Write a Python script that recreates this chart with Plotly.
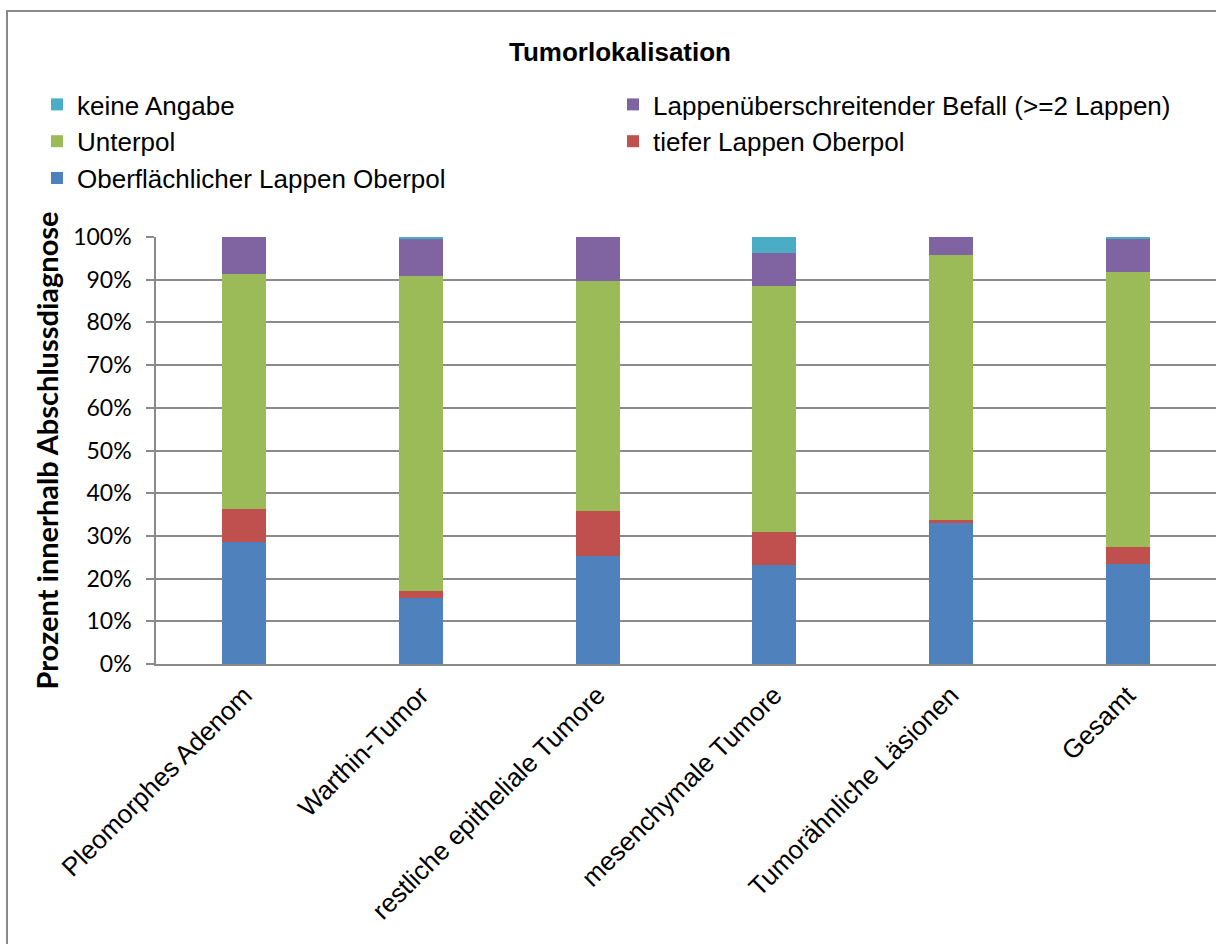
import plotly.graph_objects as go

# Tumour localisation by final diagnosis, share in percent
categories = [
    "Pleomorphes Adenom",
    "Warthin-Tumor",
    "restliche epitheliale Tumore",
    "mesenchymale Tumore",
    "Tumorähnliche Läsionen",
    "Gesamt",
]
oberflaechlich_oberpol = [28.5, 15.4, 25.4, 23.1, 33.1, 23.4]
tiefer_oberpol = [7.8, 1.6, 10.4, 7.7, 0.6, 3.9]
unterpol = [55.0, 73.8, 54.0, 57.7, 62.1, 64.5]
lappenueberschreitend = [8.7, 8.8, 10.2, 7.8, 4.2, 7.8]
keine_angabe = [0.0, 0.4, 0.0, 3.7, 0.0, 0.4]

y_ticks = [0, 10, 20, 30, 40, 50, 60, 70, 80, 90, 100]
y_tick_labels = ["0%", "10%", "20%", "30%", "40%", "50%", "60%", "70%", "80%", "90%", "100%"]

series = [
    ("Oberflächlicher Lappen Oberpol", oberflaechlich_oberpol, "#4F81BD"),
    ("tiefer Lappen Oberpol", tiefer_oberpol, "#C0504D"),
    ("Unterpol", unterpol, "#9BBB59"),
    ("Lappenüberschreitender Befall (>=2 Lappen)", lappenueberschreitend, "#8064A2"),
    ("keine Angabe", keine_angabe, "#4BACC6"),
]

fig = go.Figure()
for name, values, color in series:
    fig.add_trace(go.Bar(
        x=categories,
        y=values,
        name=name,
        marker=dict(color=color, line=dict(width=0)),
    ))

W, H = 1216, 944
PLOT_L, PLOT_W = 156, 1060   # plot area: left edge and width (px)
PLOT_T, PLOT_B = 237, 664    # plot area: top and bottom (px from top)
PLOT_H = PLOT_B - PLOT_T
GRID = "#8a8a8a"
ARIAL = "Liberation Sans, Arial, sans-serif"
CALIBRI = "Lato, Open Sans, sans-serif"

fig.update_layout(
    width=W,
    height=H,
    barmode="stack",
    bargap=0.75,
    paper_bgcolor="white",
    plot_bgcolor="white",
    margin=dict(l=PLOT_L, r=W - PLOT_L - PLOT_W, t=PLOT_T, b=H - PLOT_B, autoexpand=False),
    title=dict(
        text="<b>Tumorlokalisation</b>",
        x=620 / W,
        xanchor="center",
        xref="container",
        y=1 - 52 / H,
        yref="container",
        yanchor="middle",
        font=dict(family=ARIAL, size=26, color="black"),
    ),
    legend=dict(
        orientation="h",
        traceorder="reversed",
        x=(37 - PLOT_L) / PLOT_W,
        xanchor="left",
        y=(PLOT_B - 81) / PLOT_H,
        yanchor="top",
        entrywidth=531,
        entrywidthmode="pixels",
        font=dict(family=ARIAL, size=26, color="black"),
        bgcolor="rgba(0,0,0,0)",
    ),
    xaxis=dict(
        tickangle=-45,
        tickfont=dict(family=ARIAL, size=26, color="black"),
        showgrid=False,
        showline=True,
        linecolor=GRID,
        linewidth=1.5,
        ticks="",
        ticklabelstandoff=4,
        automargin=False,
    ),
    yaxis=dict(
        range=[0, 100],
        tickvals=y_ticks,
        ticktext=y_tick_labels,
        tickfont=dict(family=CALIBRI, size=23, color="black"),
        showgrid=True,
        gridcolor=GRID,
        gridwidth=1.5,
        showline=True,
        linecolor=GRID,
        linewidth=1.5,
        ticks="outside",
        ticklen=8,
        tickcolor=GRID,
        tickwidth=1.5,
        ticklabelstandoff=10,
        zeroline=False,
        automargin=False,
        title=dict(
            text="<b>Prozent innerhalb Abschlussdiagnose</b>",
            font=dict(family=CALIBRI, size=29, color="black"),
            standoff=6,
        ),
    ),
)

# Chart frame around the whole drawing
fig.add_shape(
    type="rect",
    xref="paper", yref="paper",
    x0=(7 - PLOT_L) / PLOT_W, x1=1.02,
    y0=-0.75, y1=(PLOT_B - 11) / PLOT_H,
    line=dict(color=GRID, width=2),
    fillcolor="rgba(0,0,0,0)",
    layer="below",
)

fig.write_html("out.html")
